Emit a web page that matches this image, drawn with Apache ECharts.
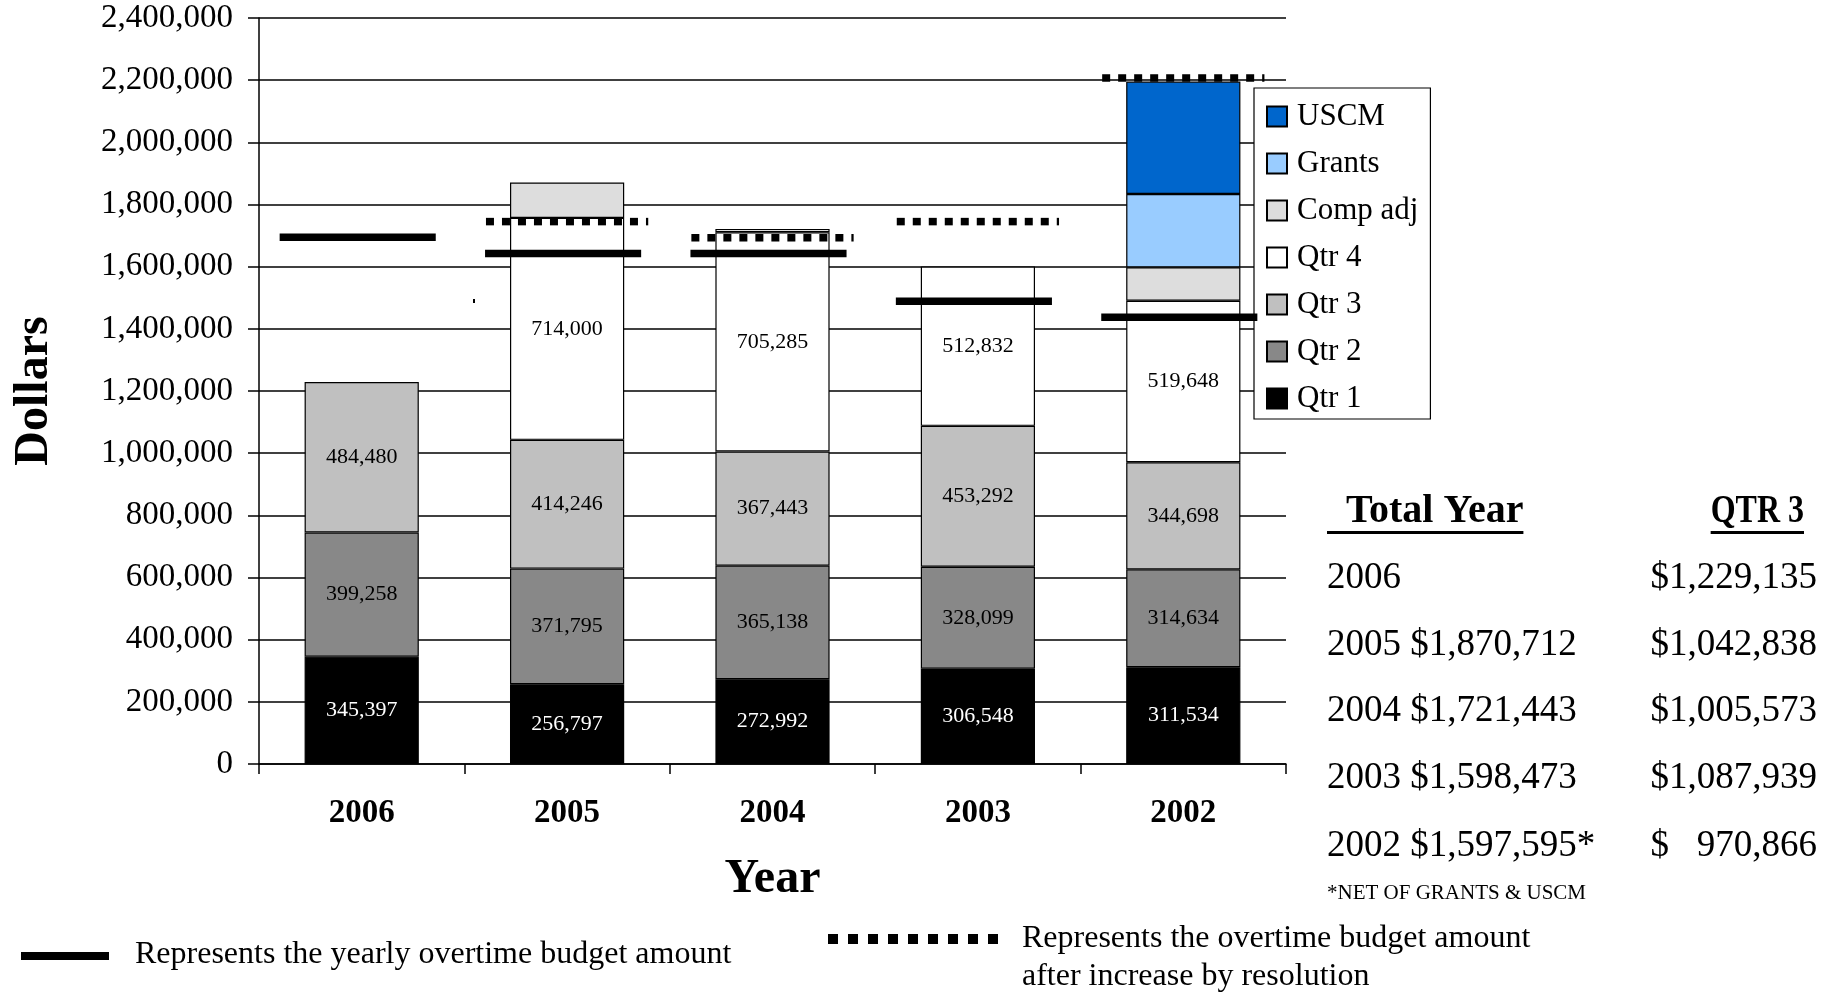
<!DOCTYPE html>
<html><head><meta charset="utf-8">
<script src="https://cdn.jsdelivr.net/npm/echarts@6/dist/echarts.min.js"></script>
<style>html,body{margin:0;padding:0;background:#fff}#c{width:1838px;height:992px}</style>
</head><body><div id="c"></div>
<script>
// ---- data ----
const years = ['2006', '2005', '2004', '2003', '2002'];
const qtr1 = [345397, 256797, 272992, 306548, 311534];
const qtr2 = [399258, 371795, 365138, 328099, 314634];
const qtr3 = [484480, 414246, 367443, 453292, 344698];
const qtr4 = [null, 714000, 705285, 512832, 519648];
const compAdj = [null, 113874, 10585, null, 107081];
const grants = [null, null, null, null, 236000];
const uscm = [null, null, null, null, 362000];
const budget = [1695000, 1642000, 1642000, 1489000, 1437000];
const budgetResolution = [null, 1745000, 1693000, 1745000, 2207000];
const yMin = 0, yMax = 2400000, yStep = 200000;

const tableYears = ['2006', '2005', '2004', '2003', '2002'];
const tableTotals = ['', '$1,870,712', '$1,721,443', '$1,598,473', '$1,597,595*'];
const tableQtr3 = ['$1,229,135', '$1,042,838', '$1,005,573', '$1,087,939', '$   970,866'];

// ---- chart ----
const FONT = 'Liberation Serif';
const chart = echarts.init(document.getElementById('c'), null, {renderer: 'canvas'});
const fmt = v => v.toLocaleString('en-US');

function barSeries(name, data, color, labelColor) {
  return {
    name, type: 'bar', stack: 'total', data,
    barWidth: '55.6%',
    itemStyle: {color, borderColor: '#000', borderWidth: 1.2},
    label: labelColor ? {
      show: true, position: 'inside', color: labelColor,
      fontFamily: FONT, fontSize: 22,
      formatter: p => (p.value == null ? '' : fmt(p.value))
    } : {show: false},
    emphasis: {disabled: true}
  };
}

function lineSeries(name, values, dashed) {
  return {
    name, type: 'custom', z: 5, silent: true,
    data: values.map((v, i) => [i, v]),
    renderItem: (params, api) => {
      const v = api.value(1);
      if (v == null || isNaN(v)) return null;
      const c = api.coord([api.value(0), v]);
      const band = api.size([1, 0])[0];
      const w = band * (dashed ? 0.79 : 0.76);
      const off = dashed ? 0 : -4;
      return {
        type: 'line',
        shape: {x1: c[0] - w / 2 + off, y1: c[1], x2: c[0] + w / 2 + off, y2: c[1]},
        style: {stroke: '#000', lineWidth: 7.5, lineDash: dashed ? [8, 8] : null, lineCap: 'butt'}
      };
    }
  };
}

// canvas text measure for underlines
const mctx = document.createElement('canvas').getContext('2d');
function tw(text, font) { mctx.font = font; return mctx.measureText(text).width; }

const graphics = [];
const tLeft = 1327, tRight = 1817;
const headFont = 'bold 40px "' + FONT + '"';
const rowFont = '37px "' + FONT + '"';
const h1 = 'Total Year', h2 = 'QTR 3';
const h1x = 1346;
const h1w = tw(h1, headFont);
const h2scale = 0.8;
const h2w = tw(h2, headFont) * h2scale;
graphics.push({type: 'text', left: h1x, top: 492, style: {text: h1, font: headFont, fill: '#000'}});
graphics.push({type: 'rect', shape: {x: tLeft, y: 531, width: h1x + h1w - tLeft, height: 3}, style: {fill: '#000'}});
graphics.push({type: 'text', x: 1804 - h2w, y: 492, scaleX: h2scale, style: {text: h2, font: headFont, fill: '#000'}});
graphics.push({type: 'rect', shape: {x: 1804 - h2w, y: 531, width: h2w, height: 3}, style: {fill: '#000'}});
const rowTops = [560, 627, 693, 760, 828];
tableYears.forEach((y, i) => {
  const txt = tableTotals[i] ? y + ' ' + tableTotals[i] : y;
  graphics.push({type: 'text', left: tLeft, top: rowTops[i], style: {text: txt, font: rowFont, fill: '#000'}});
  const q = tableQtr3[i];
  graphics.push({type: 'text', left: tRight - tw(q, rowFont), top: rowTops[i], style: {text: q, font: rowFont, fill: '#000'}});
});
graphics.push({type: 'text', left: tLeft, top: 883, style: {text: '*NET OF GRANTS & USCM', font: '21px "' + FONT + '"', fill: '#000'}});

// bottom key
const keyFont = '32px "' + FONT + '"';
graphics.push({type: 'rect', shape: {x: 21, y: 952, width: 88, height: 8}, style: {fill: '#000'}});
graphics.push({type: 'text', left: 135, top: 939, style: {text: 'Represents the yearly overtime budget amount', font: keyFont, fill: '#000'}});
graphics.push({type: 'line', shape: {x1: 828, y1: 939, x2: 1003, y2: 939}, style: {stroke: '#000', lineWidth: 10, lineDash: [10, 10]}});
graphics.push({type: 'text', left: 1022, top: 923, style: {text: 'Represents the overtime budget amount', font: keyFont, fill: '#000'}});
graphics.push({type: 'text', left: 1022, top: 961, style: {text: 'after increase by resolution', font: keyFont, fill: '#000'}});
// stray speck in original
graphics.push({type: 'rect', shape: {x: 473, y: 299, width: 2, height: 4}, style: {fill: '#000'}});

const option = {
  backgroundColor: '#fff',
  animation: false,
  textStyle: {fontFamily: FONT},
  grid: {left: 259, right: 552, top: 18, bottom: 228, containLabel: false, outerBoundsMode: 'none'},
  legend: {
    orient: 'vertical', left: 1254, top: 88,
    data: ['USCM', 'Grants', 'Comp adj', 'Qtr 4', 'Qtr 3', 'Qtr 2', 'Qtr 1'],
    icon: 'rect', itemWidth: 20, itemHeight: 20, itemGap: 16,
    padding: [13, 12, 5, 12],
    backgroundColor: '#fff', borderColor: '#000', borderWidth: 1.2, borderRadius: 0,
    textStyle: {fontFamily: FONT, fontSize: 31, color: '#000', padding: [0, 0, 0, 5]},
    selectedMode: false
  },
  xAxis: {
    type: 'category', data: years, boundaryGap: true,
    axisLine: {show: true, lineStyle: {color: '#000', width: 1.5}},
    axisTick: {show: true, length: 10, lineStyle: {color: '#000', width: 1.5}, alignWithLabel: false},
    axisLabel: {fontFamily: FONT, fontSize: 33, fontWeight: 'bold', color: '#000', margin: 33},
    splitLine: {show: false},
    name: 'Year', nameLocation: 'middle', nameGap: 92,
    nameTextStyle: {fontFamily: FONT, fontSize: 48, fontWeight: 'bold', color: '#000'}
  },
  yAxis: {
    type: 'value', min: yMin, max: yMax, interval: yStep,
    axisLine: {show: true, lineStyle: {color: '#000', width: 1.5}},
    axisTick: {show: true, length: 11, lineStyle: {color: '#000', width: 1.5}},
    axisLabel: {fontFamily: FONT, fontSize: 33, color: '#000', margin: 26, formatter: v => fmt(v)},
    splitLine: {show: true, lineStyle: {color: '#000', width: 1.5}},
    name: 'Dollars', nameLocation: 'middle', nameRotate: 90, nameGap: 200,
    nameTextStyle: {fontFamily: FONT, fontSize: 48, fontWeight: 'bold', color: '#000'}
  },
  series: [
    barSeries('Qtr 1', qtr1, '#000000', '#ffffff'),
    barSeries('Qtr 2', qtr2, '#888888', '#000000'),
    barSeries('Qtr 3', qtr3, '#c0c0c0', '#000000'),
    barSeries('Qtr 4', qtr4, '#ffffff', '#000000'),
    barSeries('Comp adj', compAdj, '#dddddd', null),
    barSeries('Grants', grants, '#99ccff', null),
    barSeries('USCM', uscm, '#0066cc', null),
    lineSeries('Budget', budget, false),
    lineSeries('Budget after resolution', budgetResolution, true)
  ],
  graphic: graphics
};
chart.setOption(option);
</script>
</body></html>
